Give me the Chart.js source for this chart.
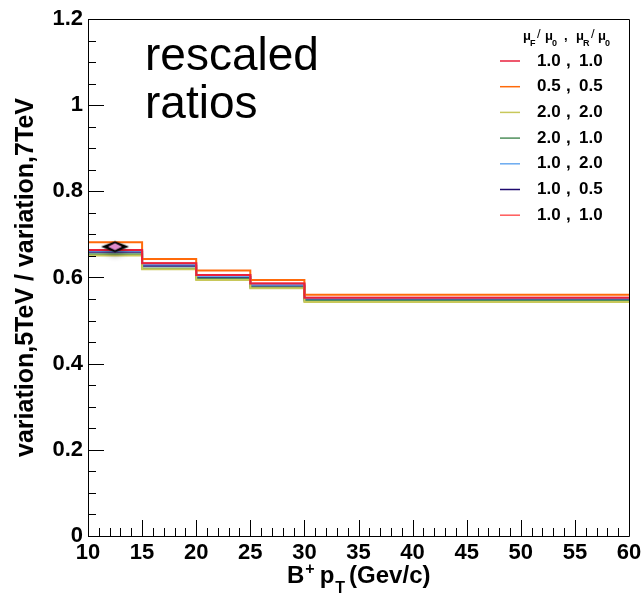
<!DOCTYPE html>
<html lang="en">
<head>
<meta charset="UTF-8">
<title>Rescaled ratios</title>
<style>
  body { margin: 0; background: #fff; }
  #chart { display: block; }
</style>
<script src="https://cdn.jsdelivr.net/npm/chart.js"></script>
</head>
<body>
<canvas id="chart" width="642" height="595"></canvas>
<script>
// pT bin edges (GeV/c)
var binEdges = [10, 15, 20, 25, 30, 60];

// 5TeV / 7TeV ratio per pT bin, one array per (muF/mu0, muR/mu0) variation
var ratio_10_10  = [0.664, 0.633, 0.606, 0.586, 0.553];
var ratio_05_05  = [0.682, 0.643, 0.616, 0.594, 0.560];
var ratio_20_20  = [0.651, 0.619, 0.594, 0.575, 0.543];
var ratio_20_10  = [0.654, 0.621, 0.597, 0.577, 0.546];
var ratio_10_20  = [0.662, 0.630, 0.603, 0.583, 0.551];
var ratio_10_05  = [0.660, 0.627, 0.601, 0.581, 0.549];
var ratio_10_10b = [0.664, 0.633, 0.606, 0.586, 0.553];

var seriesValues = [ratio_10_10, ratio_05_05, ratio_20_20, ratio_20_10, ratio_10_20, ratio_10_05, ratio_10_10b];
var seriesLabels = [['1.0', '1.0'], ['0.5', '0.5'], ['2.0', '2.0'], ['2.0', '1.0'], ['1.0', '2.0'], ['1.0', '0.5'], ['1.0', '1.0']];
var seriesColors = ['#e8203c', '#ff6a0a', '#c8c85a', '#4f8f5c', '#6aaaf0', '#1e0a6e', '#ff5a5a'];

// the single measured point
var pointX = [12.5];
var pointY = [0.667];

// axis tick labels
var xTickLabels = ['10', '15', '20', '25', '30', '35', '40', '45', '50', '55', '60'];
var yTickLabels = ['0', '0.2', '0.4', '0.6', '0.8', '1', '1.2'];

function stepPoints(vals) {
    var pts = vals.map(function (v, i) { return { x: binEdges[i], y: v }; });
    pts.push({ x: binEdges[binEdges.length - 1], y: vals[vals.length - 1] });
    return pts;
}

// diamond marker with pink centre
function diamondMarker() {
    var c = document.createElement('canvas');
    c.width = 44; c.height = 30;
    var g = c.getContext('2d');
    var cx = 22, cy = 13;
    g.shadowColor = 'rgba(0,0,0,0.35)';
    g.shadowBlur = 6;
    g.shadowOffsetY = 4;
    g.fillStyle = '#000';
    g.beginPath();
    g.moveTo(cx - 14, cy); g.lineTo(cx, cy - 5.5); g.lineTo(cx + 14, cy); g.lineTo(cx, cy + 5.5);
    g.closePath(); g.fill();
    g.shadowColor = 'transparent';
    g.fillStyle = '#e08ccc';
    g.beginPath();
    g.moveTo(cx - 7, cy); g.lineTo(cx, cy - 3.5); g.lineTo(cx + 7, cy); g.lineTo(cx, cy + 3.5);
    g.closePath(); g.fill();
    return c;
}

var datasets = [{
    label: 'data',
    data: pointX.map(function (x, i) { return { x: x, y: pointY[i] }; }),
    showLine: false,
    pointStyle: diamondMarker(),
    pointRadius: 10
}];
seriesValues.forEach(function (vals, i) {
    datasets.push({
        label: seriesLabels[i].join(', '),
        data: stepPoints(vals),
        borderColor: seriesColors[i],
        borderWidth: 2,
        stepped: true,
        showLine: true,
        pointRadius: 0,
        fill: false
    });
});

var FONT = '"Liberation Sans", Arial, Helvetica, sans-serif';

var rootDecor = {
    id: 'rootDecor',
    afterDatasetsDraw: function (chart) {
        var ctx = chart.ctx, a = chart.chartArea;
        var xs = chart.scales.x, ys = chart.scales.y;
        ctx.save();
        // frame
        ctx.strokeStyle = '#000';
        ctx.lineWidth = 1;
        ctx.beginPath();
        ctx.moveTo(a.left + 0.5, a.top + 0.5);
        ctx.lineTo(a.right + 0.5, a.top + 0.5);
        ctx.lineTo(a.right + 0.5, a.bottom + 0.5);
        ctx.lineTo(a.left + 0.5, a.bottom + 0.5);
        ctx.closePath();
        ctx.stroke();
        // inward ticks
        ctx.beginPath();
        var v, p, major;
        for (v = 10; v <= 60; v += 1) {
            p = Math.round(xs.getPixelForValue(v)) + 0.5;
            major = (v % 5 === 0);
            ctx.moveTo(p, a.bottom);
            ctx.lineTo(p, a.bottom - (major ? 16 : 8));
        }
        for (var k = 0; k <= 24; k++) {
            v = k * 0.05;
            p = Math.round(ys.getPixelForValue(v)) + 0.5;
            major = (k % 4 === 0);
            ctx.moveTo(a.left, p);
            ctx.lineTo(a.left + (major ? 16 : 8), p);
        }
        ctx.stroke();

        ctx.fillStyle = '#000';
        // big label
        ctx.font = '46px ' + FONT;
        ctx.textAlign = 'left';
        ctx.textBaseline = 'alphabetic';
        ctx.fillText('rescaled', 145, 70);
        ctx.fillText('ratios', 145, 118);

        // y title
        ctx.save();
        ctx.translate(33, (a.top + a.bottom) / 2);
        ctx.rotate(-Math.PI / 2);
        ctx.textAlign = 'center';
        ctx.font = 'bold 25px ' + FONT;
        ctx.fillText('variation,5TeV / variation,7TeV', 0, 0);
        ctx.restore();

        // x title: B+ pT (Gev/c)
        var x = 287, base = 583;
        ctx.textAlign = 'left';
        ctx.font = 'bold 24px ' + FONT;
        ctx.fillText('B', x, base); x += ctx.measureText('B').width + 1;
        ctx.font = 'bold 16px ' + FONT;
        ctx.fillText('+', x, base - 9); x += ctx.measureText('+').width + 5;
        ctx.font = 'bold 24px ' + FONT;
        ctx.fillText('p', x, base); x += ctx.measureText('p').width + 1;
        ctx.font = 'bold 16px ' + FONT;
        ctx.fillText('T', x, base + 10); x += ctx.measureText('T').width + 4;
        ctx.font = 'bold 24px ' + FONT;
        ctx.fillText('(Gev/c)', x, base);

        // legend header: muF/mu0 , muR/mu0
        var hb = 40;
        function t(s, px, py, f) { ctx.font = f; ctx.fillText(s, px, py); }
        var mu = 'bold 13px ' + FONT, sub = 'bold 9px ' + FONT, sl = '13px ' + FONT;
        t('\u03bc', 523, hb, mu); t('F', 530, hb + 6, sub); t('/', 537, hb - 2, sl);
        t('\u03bc', 545, hb, mu); t('0', 552, hb + 6, sub);
        t(',', 564, hb, mu);
        t('\u03bc', 576, hb, mu); t('R', 583, hb + 6, sub); t('/', 591, hb - 2, sl);
        t('\u03bc', 598, hb, mu); t('0', 605, hb + 6, sub);

        // legend entries
        var rowY = 61, step = 25.7;
        ctx.textBaseline = 'middle';
        seriesLabels.forEach(function (lab, i) {
            var y = rowY + i * step;
            ctx.strokeStyle = seriesColors[i];
            ctx.lineWidth = 1.5;
            ctx.beginPath();
            ctx.moveTo(500, y); ctx.lineTo(520, y);
            ctx.stroke();
            ctx.font = 'bold 17px ' + FONT;
            ctx.fillText(lab[0], 537, y);
            ctx.fillText(',', 566, y);
            ctx.fillText(lab[1], 579, y);
        });
        ctx.restore();
    }
};

new Chart(document.getElementById('chart'), {
    type: 'scatter',
    data: { datasets: datasets },
    options: {
        responsive: false,
        devicePixelRatio: 1,
        animation: false,
        layout: { padding: { top: 19, right: 0, left: 0, bottom: 0 } },
        plugins: { legend: { display: false }, tooltip: { enabled: false } },
        scales: {
            x: {
                type: 'linear', min: 10, max: 60,
                grid: { display: false, drawTicks: false },
                border: { display: false },
                ticks: {
                    stepSize: 5, padding: 4, color: '#000', maxRotation: 0,
                    font: { family: FONT, weight: 'bold', size: 22 },
                    callback: function (v) { return xTickLabels[Math.round((v - 10) / 5)]; }
                },
                afterFit: function (s) { s.height = 59; s.paddingRight = 13; s.paddingLeft = 0; }
            },
            y: {
                type: 'linear', min: 0, max: 1.2,
                grid: { display: false, drawTicks: false },
                border: { display: false },
                ticks: {
                    stepSize: 0.2, padding: 5, color: '#000',
                    font: { family: FONT, weight: 'bold', size: 22 },
                    callback: function (v) { return yTickLabels[Math.round(v / 0.2)]; }
                },
                afterFit: function (s) { s.width = 88; s.paddingTop = 0; s.paddingBottom = 0; }
            }
        }
    },
    plugins: [rootDecor]
});
</script>
</body>
</html>
